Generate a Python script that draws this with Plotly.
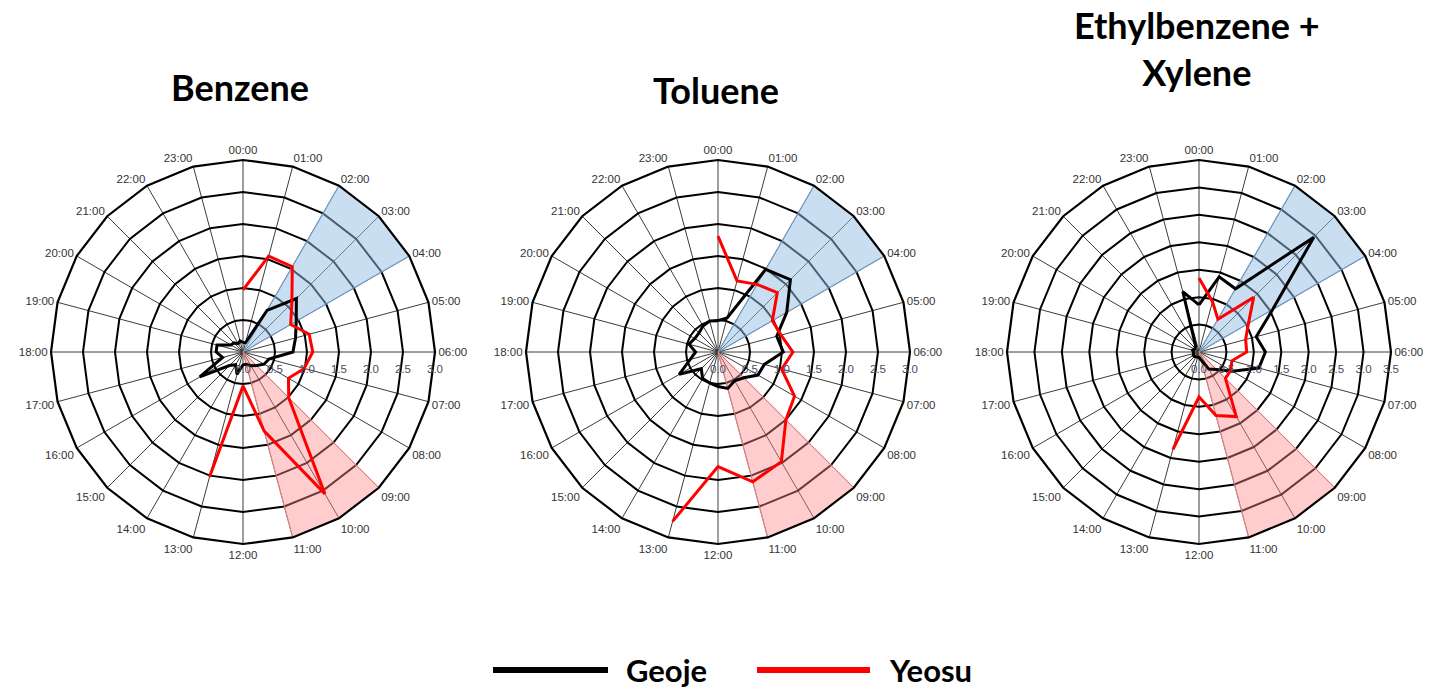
import plotly.graph_objects as go

# Hour-of-day categories around each rose
hours = ["00:00", "01:00", "02:00", "03:00", "04:00", "05:00", "06:00", "07:00",
         "08:00", "09:00", "10:00", "11:00", "12:00", "13:00", "14:00", "15:00",
         "16:00", "17:00", "18:00", "19:00", "20:00", "21:00", "22:00", "23:00"]
yeosu_hours = hours[:14]  # Yeosu record runs 00:00-13:00

# Benzene
benzene_geoje = [0.15, 0.15, 0.75, 1.18, 0.96, 0.85, 0.78, 0.42, 0.38, 0.30, 0.25, 0.20,
                 0.20, 0.36, 0.23, 0.30, 0.78, 0.33, 0.42, 0.42, 0.22, 0.20, 0.15, 0.18]
benzene_yeosu = [0.97, 1.55, 1.54, 1.08, 0.86, 1.07, 1.09, 0.99, 0.82, 1.01, 2.56, 1.28, 0.53, 2.02]

# Toluene
toluene_geoje = [0.49, 0.55, 1.49, 1.60, 1.24, 0.95, 1.02, 0.75, 0.72, 0.57, 0.52, 0.59,
                 0.54, 0.50, 0.48, 0.37, 0.70, 0.45, 0.35, 0.47, 0.42, 0.42, 0.47, 0.50]
toluene_yeosu = [1.81, 1.15, 1.22, 1.31, 0.98, 1.02, 1.17, 1.03, 1.38, 1.50, 1.98, 2.10, 1.79, 2.74]

# Ethylbenzene + Xylene
ebx_geoje = [0.86, 1.42, 1.33, 2.96, 1.55, 1.08, 1.21, 1.13, 0.70, 0.45, 0.36, 0.15,
             0.10, 0.10, 0.10, 0.12, 0.12, 0.10, 0.10, 0.12, 0.10, 0.10, 0.12, 1.14]
ebx_yeosu = [1.35, 0.95, 0.69, 1.41, 1.04, 0.88, 0.87, 0.62, 0.67, 0.68, 1.36, 1.20, 0.82, 1.84]

# Highlighted hour windows
blue_window = ["02:00", "03:00", "04:00"]
red_window = ["09:00", "10:00", "11:00"]

panels = [
    ("Benzene", benzene_geoje, benzene_yeosu, 3.0, 243),
    ("Toluene", toluene_geoje, toluene_yeosu, 3.0, 718),
    ("Ethylbenzene +<br>Xylene", ebx_geoje, ebx_yeosu, 3.5, 1199),
]

W, H = 1442, 689
R = 192          # pixel radius of the outer ring
CY = 352         # pixel row of the rose centres

TICK_FONT = dict(family="Liberation Sans, Arial", size=11.5, color="#333333")

fig = go.Figure()
layout_polars = {}

for i, (name, geoje, yeosu, rmax, cx) in enumerate(panels, start=1):
    pname = "polar" if i == 1 else f"polar{i}"

    # shaded hour windows
    for window, fillc, linec in [
        (blue_window, "rgba(150,190,228,0.50)", "rgba(120,170,220,0.75)"),
        (red_window, "rgba(255,135,135,0.42)", "rgba(255,150,150,0.70)"),
    ]:
        fig.add_trace(go.Scatterpolar(
            theta=[window[0]] + window + [window[-1]],
            r=[0] + [rmax] * len(window) + [0],
            mode="lines", fill="toself", fillcolor=fillc,
            line=dict(color=linec, width=1.2),
            subplot=pname, showlegend=False, hoverinfo="skip",
        ))

    # Geoje (closed loop over 24 h)
    fig.add_trace(go.Scatterpolar(
        theta=hours + [hours[0]], r=geoje + [geoje[0]],
        mode="lines", line=dict(color="black", width=3),
        name="Geoje", subplot=pname, showlegend=False,
    ))
    # Yeosu (00:00-13:00)
    fig.add_trace(go.Scatterpolar(
        theta=yeosu_hours, r=yeosu,
        mode="lines", line=dict(color="#ff0000", width=3),
        name="Yeosu", subplot=pname, showlegend=False,
    ))

    layout_polars[pname] = dict(
        domain=dict(x=[(cx - R) / W, (cx + R) / W],
                    y=[(H - CY - R) / H, (H - CY + R) / H]),
        gridshape="linear",
        bgcolor="rgba(0,0,0,0)",
        angularaxis=dict(
            type="category", categoryorder="array", categoryarray=hours,
            rotation=90, direction="clockwise",
            showline=True, linecolor="black", linewidth=2.2,
            showgrid=True, gridcolor="#3c3c3c", gridwidth=1,
            ticks="", tickfont=TICK_FONT,
        ),
        radialaxis=dict(
            range=[0, rmax], tick0=0, dtick=0.5, tickformat=".1f",
            showline=False, showgrid=True, gridcolor="black", gridwidth=2,
            angle=0, tickangle=0, side="clockwise",
            ticks="outside", ticklen=7, tickcolor="rgba(0,0,0,0)",
            tickfont=dict(family="Liberation Sans, Arial", size=11.5, color="#4a4a66"),
        ),
    )

# Panel titles
titles = [
    dict(text="<b>Benzene</b>", x=240, y=87),
    dict(text="<b>Toluene</b>", x=716, y=90),
    dict(text="<b>Ethylbenzene +<br>Xylene</b>", x=1197, y=49),
]
annotations = []
for t in titles:
    annotations.append(dict(
        text=t["text"], x=t["x"] / W, y=1 - t["y"] / H, xref="paper", yref="paper",
        xanchor="center", yanchor="middle", showarrow=False,
        font=dict(family="Lato, Open Sans, sans-serif", size=36, color="black"),
    ))

# Legend keys
legend_items = [("Geoje", "black", 493, 608, 624), ("Yeosu", "#ff0000", 757, 870, 887)]
shapes = []
for label, color, x0, x1, tx in legend_items:
    shapes.append(dict(type="line", xref="paper", yref="paper",
                       x0=x0 / W, x1=x1 / W, y0=1 - 670 / H, y1=1 - 670 / H,
                       line=dict(color=color, width=6)))
    annotations.append(dict(
        text=f"<b>{label}</b>", x=tx / W, y=1 - 670 / H, xref="paper", yref="paper",
        xanchor="left", yanchor="middle", showarrow=False,
        font=dict(family="Lato, Open Sans, sans-serif", size=31, color="black"),
    ))

fig.update_layout(
    width=W, height=H,
    margin=dict(l=0, r=0, t=0, b=0),
    paper_bgcolor="white", plot_bgcolor="white",
    showlegend=False,
    annotations=annotations, shapes=shapes,
    **layout_polars,
)

fig.write_html("out.html")
